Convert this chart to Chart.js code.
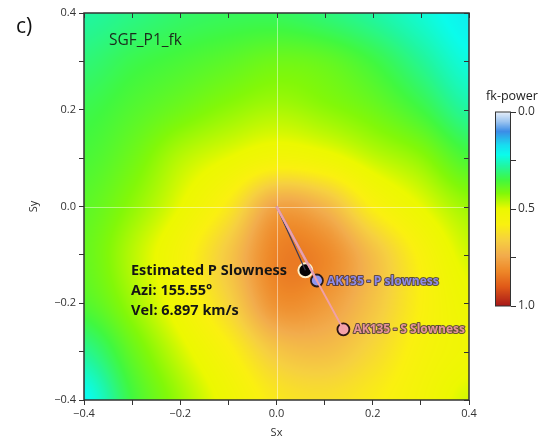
<!DOCTYPE html>
<html>
<head>
<meta charset="utf-8">
<script src="https://cdn.jsdelivr.net/npm/chart.js@4"></script>
<style>
  html, body { margin: 0; padding: 0; background: #fff; }
  #wrap { position: relative; width: 543px; height: 441px; }
  #fk { position: absolute; left: 0; top: 0; }
  #cbar { position: absolute; left: 480px; top: 85px; }
</style>
</head>
<body>
<div id="wrap">
  <canvas id="fk" width="543" height="441"></canvas>
  <canvas id="cbar" width="63" height="235"></canvas>
</div>
<script>
// slowness grid (s/km), rows run from Sy = 0.4 down to Sy = -0.4
const sxGrid = [-0.4, -0.3, -0.2, -0.1, 0.0, 0.1, 0.2, 0.3, 0.4];
const syGrid = [0.4, 0.3, 0.2, 0.1, 0.0, -0.1, -0.2, -0.3, -0.4];

// normalised fk power, 1 = peak
const fkPower = [
  [0.28, 0.30, 0.32, 0.33, 0.33, 0.31, 0.28, 0.24, 0.20],
  [0.31, 0.34, 0.36, 0.38, 0.40, 0.39, 0.35, 0.29, 0.23],
  [0.34, 0.37, 0.40, 0.43, 0.45, 0.43, 0.40, 0.35, 0.28],
  [0.36, 0.40, 0.46, 0.50, 0.54, 0.52, 0.47, 0.43, 0.36],
  [0.38, 0.43, 0.50, 0.60, 0.76, 0.72, 0.58, 0.50, 0.44],
  [0.39, 0.46, 0.55, 0.68, 0.83, 0.82, 0.70, 0.57, 0.48],
  [0.37, 0.44, 0.53, 0.65, 0.80, 0.78, 0.69, 0.58, 0.51],
  [0.29, 0.39, 0.48, 0.57, 0.68, 0.70, 0.64, 0.56, 0.52],
  [0.21, 0.35, 0.44, 0.52, 0.60, 0.62, 0.59, 0.54, 0.48]
];

// beam estimate
const estAzi = 155.55;   // degrees
const estVel = 6.897;    // km/s

// reference model slownesses
const refNames = ['AK135 - P slowness', 'AK135 - S Slowness'];
const refSx = [0.084, 0.139];
const refSy = [-0.153, -0.254];

const axisTicks = [-0.4, -0.2, 0.0, 0.2, 0.4];
const cbarTicks = [0.0, 0.5, 1.0];

// colour table (fk-power 0 -> 1)
const cmapPos = [0.00, 0.05, 0.10, 0.17, 0.22, 0.28, 0.35, 0.42, 0.50, 0.58, 0.66, 0.74, 0.82, 0.90, 1.00];
const cmapCol = [
  [230, 238, 250], [156, 196, 240], [60, 140, 230], [24, 220, 240], [10, 252, 236],
  [32, 246, 160], [64, 248, 64], [130, 248, 8], [236, 248, 0], [250, 240, 16],
  [246, 208, 64], [242, 172, 76], [238, 136, 40], [224, 90, 24], [168, 24, 24]
];

function cmap(v) {
  v = Math.max(0, Math.min(1, v));
  let i = 0;
  while (i < cmapPos.length - 2 && v > cmapPos[i + 1]) i++;
  const t = (v - cmapPos[i]) / (cmapPos[i + 1] - cmapPos[i]);
  const a = cmapCol[i], b = cmapCol[i + 1];
  return [a[0] + (b[0] - a[0]) * t, a[1] + (b[1] - a[1]) * t, a[2] + (b[2] - a[2]) * t];
}

function cubic(p0, p1, p2, p3, t) {
  return p1 + 0.5 * t * (p2 - p0 + t * (2 * p0 - 5 * p1 + 4 * p2 - p3 + t * (3 * (p1 - p2) + p3 - p0)));
}

function powerAt(sx, sy) {
  const n = sxGrid.length, m = syGrid.length;
  const gx = (sx - sxGrid[0]) / (sxGrid[1] - sxGrid[0]);
  const gy = (sy - syGrid[0]) / (syGrid[1] - syGrid[0]);
  const ix = Math.floor(gx), iy = Math.floor(gy);
  const tx = gx - ix, ty = gy - iy;
  const cl = (k, len) => Math.max(0, Math.min(len - 1, k));
  const col = [];
  for (let r = -1; r <= 2; r++) {
    const row = fkPower[cl(iy + r, m)];
    col.push(cubic(row[cl(ix - 1, n)], row[cl(ix, n)], row[cl(ix + 1, n)], row[cl(ix + 2, n)], tx));
  }
  return cubic(col[0], col[1], col[2], col[3], ty);
}

const fmt = v => (v < -1e-9 ? '\u2212' : '') + Math.abs(v).toFixed(1);
const isLabelled = v => axisTicks.some(t => Math.abs(t - v) < 1e-6);

const estSx = Math.sin(estAzi * Math.PI / 180) / estVel;
const estSy = Math.cos(estAzi * Math.PI / 180) / estVel;

const fkField = {
  id: 'fkField',
  beforeDatasetsDraw(chart) {
    const { ctx, chartArea: a, scales: { x, y } } = chart;
    const l = Math.round(a.left), t = Math.round(a.top);
    const w = Math.round(a.right) - l, h = Math.round(a.bottom) - t;
    const img = ctx.createImageData(w, h);
    for (let j = 0; j < h; j++) {
      const sy = y.getValueForPixel(t + j + 0.5);
      for (let i = 0; i < w; i++) {
        const sx = x.getValueForPixel(l + i + 0.5);
        const c = cmap(powerAt(sx, sy));
        const k = (j * w + i) * 4;
        img.data[k] = c[0]; img.data[k + 1] = c[1]; img.data[k + 2] = c[2]; img.data[k + 3] = 255;
      }
    }
    ctx.putImageData(img, l, t);

    // faint zero lines
    ctx.save();
    ctx.strokeStyle = 'rgba(255,255,255,0.45)';
    ctx.lineWidth = 1;
    const x0 = Math.round(x.getPixelForValue(0)) + 0.5;
    const y0 = Math.round(y.getPixelForValue(0)) + 0.5;
    ctx.beginPath();
    ctx.moveTo(x0, a.top); ctx.lineTo(x0, a.bottom);
    ctx.moveTo(a.left, y0); ctx.lineTo(a.right, y0);
    ctx.stroke();
    ctx.restore();
  },
  afterDraw(chart) {
    const { ctx, chartArea: a, scales: { x, y } } = chart;
    ctx.save();
    ctx.strokeStyle = '#333';
    ctx.lineWidth = 1.5;
    ctx.strokeRect(a.left, a.top, a.right - a.left, a.bottom - a.top);
    // inward ticks on top and right
    ctx.lineWidth = 1;
    ctx.beginPath();
    x.ticks.forEach(tk => {
      const px = Math.round(x.getPixelForValue(tk.value)) + 0.5;
      ctx.moveTo(px, a.top); ctx.lineTo(px, a.top + 5);
    });
    y.ticks.forEach(tk => {
      const py = Math.round(y.getPixelForValue(tk.value)) + 0.5;
      ctx.moveTo(a.right, py); ctx.lineTo(a.right - 5, py);
    });
    ctx.stroke();

    ctx.fillStyle = '#111';
    ctx.font = '21px "Open Sans"';
    ctx.textBaseline = 'alphabetic';
    ctx.fillText('c)', 16, 33);

    ctx.fillStyle = '#1c2a1c';
    ctx.font = '15.5px "Open Sans"';
    ctx.fillText('SGF_P1_fk', 109, 45);

    ctx.fillStyle = '#151515';
    ctx.font = 'bold 14.5px "Open Sans"';
    ctx.fillText('Estimated P Slowness', 131, 275);
    ctx.fillText('Azi: ' + estAzi.toFixed(2) + '\u00b0', 131, 295);
    ctx.fillText('Vel: ' + estVel.toFixed(3) + ' km/s', 131, 315);

    const labelFill = ['#8c8ae8', '#e8949a'];
    ctx.font = 'bold 12px "Open Sans"';
    ctx.lineJoin = 'round';
    refNames.forEach((name, i) => {
      const px = x.getPixelForValue(refSx[i]) + 10;
      const py = y.getPixelForValue(refSy[i]) + 4;
      ctx.strokeStyle = 'rgba(50,35,60,0.75)';
      ctx.lineWidth = 2;
      ctx.strokeText(name, px, py);
      ctx.fillStyle = labelFill[i];
      ctx.fillText(name, px, py);
    });
    ctx.restore();
  }
};

const tickFont = { family: '"Open Sans"', size: 11 };

new Chart(document.getElementById('fk').getContext('2d'), {
  type: 'scatter',
  data: {
    datasets: [
      {
        type: 'line',
        data: [{ x: 0, y: 0 }, { x: refSx[1], y: refSy[1] }],
        borderColor: '#f0a0a8',
        borderWidth: 2,
        pointRadius: 0
      },
      {
        type: 'line',
        data: [{ x: 0, y: 0 }, { x: refSx[0], y: refSy[0] }],
        borderColor: '#a898dc',
        borderWidth: 2.5,
        pointRadius: 0
      },
      {
        type: 'line',
        data: [{ x: 0, y: 0 }, { x: estSx, y: estSy }],
        borderColor: '#3c3a55',
        borderWidth: 1.2,
        pointRadius: 0
      },
      {
        data: [{ x: refSx[1], y: refSy[1] }],
        backgroundColor: '#f5a2aa',
        borderColor: '#2c1414',
        borderWidth: 1.8,
        pointRadius: 6
      },
      {
        data: [{ x: refSx[0], y: refSy[0] }],
        backgroundColor: '#8e96f2',
        borderColor: '#2a1a1a',
        borderWidth: 1.8,
        pointRadius: 6
      },
      {
        data: [{ x: estSx, y: estSy }],
        backgroundColor: '#050505',
        borderColor: '#fff2cc',
        borderWidth: 2,
        pointRadius: 7
      }
    ]
  },
  options: {
    responsive: false,
    animation: false,
    events: [],
    layout: { padding: { left: 0, top: 13, right: 74, bottom: 0 } },
    plugins: { legend: { display: false }, tooltip: { enabled: false } },
    scales: {
      x: {
        type: 'linear',
        min: -0.4, max: 0.4,
        afterFit: s => { s.height = 41; },
        ticks: {
          stepSize: 0.1, autoSkip: false, maxRotation: 0, padding: 2,
          color: '#333', font: tickFont,
          callback: v => isLabelled(v) ? fmt(v) : ''
        },
        grid: { drawOnChartArea: false, drawTicks: true, tickLength: 5, color: '#333' },
        border: { display: false },
        title: { display: true, text: 'Sx', color: '#333', font: tickFont, padding: { top: 0, bottom: 2 } }
      },
      y: {
        type: 'linear',
        min: -0.4, max: 0.4,
        afterFit: s => { s.width = 84; },
        ticks: {
          stepSize: 0.1, autoSkip: false, padding: 3,
          color: '#333', font: tickFont,
          callback: v => isLabelled(v) ? fmt(v) : ''
        },
        grid: { drawOnChartArea: false, drawTicks: true, tickLength: 5, color: '#333' },
        border: { display: false },
        title: { display: true, text: 'Sy', color: '#333', font: tickFont, padding: { top: 27, bottom: 0 } }
      }
    }
  },
  plugins: [fkField]
});

// colour scale bar
const colourBar = {
  id: 'colourBar',
  beforeDatasetsDraw(chart) {
    const { ctx, chartArea: a, scales: { y } } = chart;
    ctx.save();
    for (let py = Math.floor(a.top); py < Math.ceil(a.bottom); py++) {
      const c = cmap(y.getValueForPixel(py + 0.5));
      ctx.fillStyle = 'rgb(' + c.map(Math.round).join(',') + ')';
      ctx.fillRect(a.left, py, a.right - a.left, 1);
    }
    ctx.strokeStyle = '#333';
    ctx.lineWidth = 1;
    ctx.strokeRect(a.left + 0.5, a.top, a.right - a.left - 1, a.bottom - a.top);
    ctx.fillStyle = '#222';
    ctx.font = '12.5px "Open Sans"';
    ctx.textAlign = 'center';
    ctx.fillText('fk-power', 32, 15);
    ctx.restore();
  }
};

new Chart(document.getElementById('cbar').getContext('2d'), {
  type: 'scatter',
  data: { datasets: [] },
  options: {
    responsive: false,
    animation: false,
    events: [],
    layout: { padding: { left: 15, top: 27, right: 0, bottom: 14 } },
    plugins: { legend: { display: false }, tooltip: { enabled: false } },
    scales: {
      x: { display: false, min: 0, max: 1 },
      y: {
        position: 'right',
        min: 0, max: 1, reverse: true,
        afterFit: s => { s.width = 32; },
        ticks: {
          stepSize: 0.25, autoSkip: false, padding: 2,
          color: '#333', font: { family: '"Open Sans"', size: 12 },
          callback: v => cbarTicks.some(t => Math.abs(t - v) < 1e-6) ? v.toFixed(1) : ''
        },
        grid: { drawOnChartArea: false, drawTicks: true, tickLength: 5, color: '#333' },
        border: { display: false }
      }
    }
  },
  plugins: [colourBar]
});
</script>
</body>
</html>
